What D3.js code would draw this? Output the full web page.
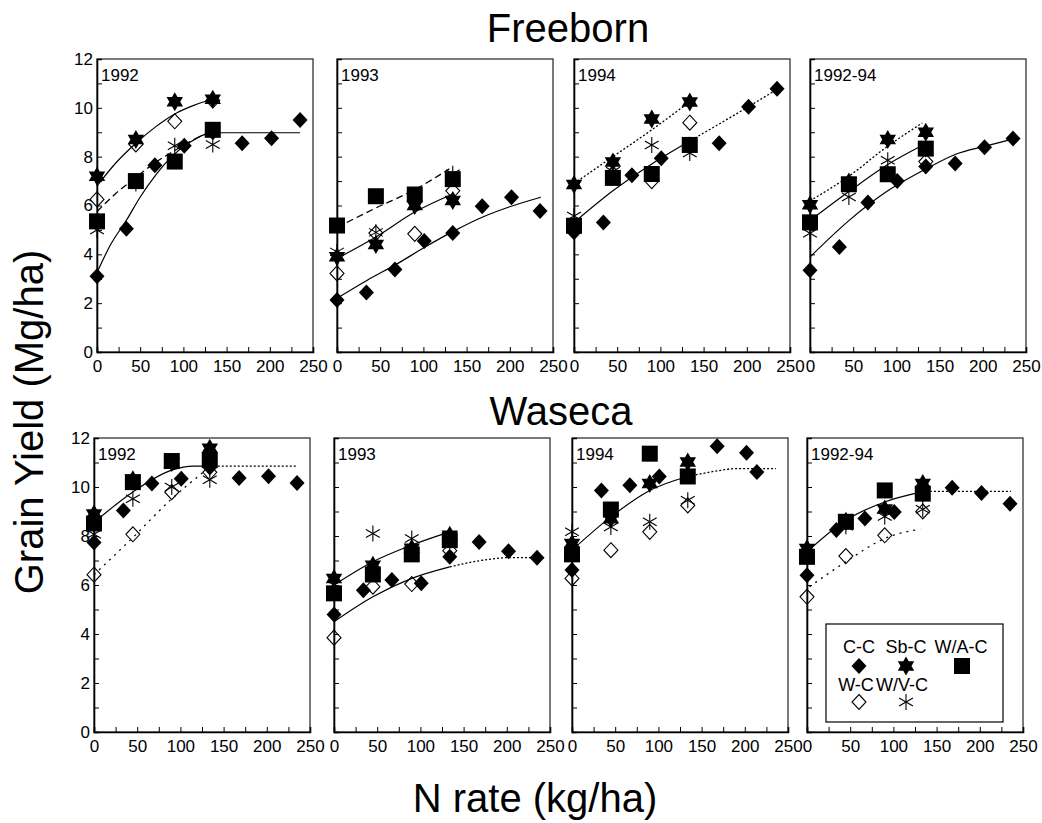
<!DOCTYPE html>
<html>
<head>
<meta charset="utf-8">
<script src="https://cdn.jsdelivr.net/npm/d3@7"></script>
<style>
  html, body { margin: 0; padding: 0; background: #fff; }
  svg { display: block; }
  text { font-family: "Liberation Sans", Arial, sans-serif; fill: #000; }
</style>
</head>
<body>
<svg id="chart" width="1042" height="823"></svg>
<script>
// ---------------- DATA ----------------
const xTicks = [0, 25, 50, 75, 100, 125, 150, 175, 200, 225, 250];
const xTickLabels = [0, 50, 100, 150, 200, 250];
const yTicks = [0, 1, 2, 3, 4, 5, 6, 7, 8, 9, 10, 11, 12];
const yTickLabels = [0, 2, 4, 6, 8, 10, 12];
const sites = ["Freeborn", "Waseca"];
const years = ["1992", "1993", "1994", "1992-94"];
const rotations = ["C-C", "Sb-C", "W/A-C", "W-C", "W/V-C"];

// Freeborn 1992
const fb92_cc = [[0,3.1],[34,5.05],[67,7.65],[101,8.45],[134,9.0],[168,8.55],[202,8.75],[235,9.5]];
const fb92_sb = [[0,7.2],[45,8.7],[90,10.25],[134,10.35]];
const fb92_wc = [[0,6.25],[45,8.5],[90,9.45],[134,10.3]];
const fb92_wa = [[0,5.35],[45,7.0],[90,7.8],[134,9.1]];
const fb92_wv = [[0,5.0],[45,6.9],[90,8.45],[134,8.5]];
const fb92_fitSb = [[0,6.8],[22,7.75],[45,8.55],[67,9.2],[90,9.75],[112,10.1],[134,10.35]];
const fb92_fitCC = [[0,3.25],[15,4.35],[35,5.45],[50,6.35],[69,7.3],[85,7.95],[108,8.6],[134,8.98],[235,8.98]];
const fb92_fitWA = [[0,5.75],[22,6.5],[45,7.15],[67,7.75],[90,8.25],[112,8.7],[134,9.05]];

// Freeborn 1993
const fb93_cc = [[0,2.13],[34,2.44],[67,3.38],[101,4.55],[134,4.87],[168,5.97],[202,6.34],[235,5.77]];
const fb93_sb = [[0,3.9],[45,4.4],[90,6.0],[134,6.2]];
const fb93_wc = [[0,3.22],[45,4.87],[90,4.84],[134,6.6]];
const fb93_wa = [[0,5.18],[45,6.38],[90,6.45],[134,7.08]];
const fb93_wv = [[0,4.1],[45,4.9],[90,6.3],[134,7.3]];
const fb93_fitWA = [[0,5.1],[45,5.9],[90,6.65],[130,7.5]];
const fb93_fitSb = [[0,3.83],[45,4.71],[90,5.73],[134,6.47]];
const fb93_fitCC = [[0,2.2],[35,2.94],[70,3.62],[102,4.3],[135,4.95],[170,5.55],[200,5.95],[236,6.34]];

// Freeborn 1994
const fb94_cc = [[0,4.9],[34,5.3],[67,7.24],[101,7.94],[134,8.5],[168,8.55],[202,10.04],[235,10.78]];
const fb94_sb = [[0,6.86],[45,7.78],[90,9.54],[134,10.24]];
const fb94_wc = [[0,5.1],[45,7.3],[90,7.0],[134,9.39]];
const fb94_wa = [[0,5.17],[45,7.13],[90,7.29],[134,8.48]];
const fb94_wv = [[0,5.57],[45,7.4],[90,8.48],[134,8.15]];
const fb94_fitSb = [[0,6.9],[45,8.0],[90,9.1],[134,10.25]];
const fb94_fitCC = [[0,5.3],[45,6.6],[90,7.7],[136,8.68]];
const fb94_fitCCext = [[136,8.68],[170,9.38],[202,10.05],[236,10.78]];

// Freeborn 1992-94
const fb9294_cc = [[0,3.35],[34,4.3],[67,6.12],[101,7.0],[134,7.6],[168,7.72],[202,8.39],[235,8.74]];
const fb9294_sb = [[0,6.03],[45,6.96],[90,8.7],[134,9.0]];
const fb9294_wc = [[0,5.3],[45,6.9],[90,7.3],[134,7.8]];
const fb9294_wa = [[0,5.31],[45,6.87],[90,7.28],[134,8.33]];
const fb9294_wv = [[0,4.86],[45,6.35],[90,7.85],[134,8.3]];
const fb9294_fitSb = [[0,6.19],[45,7.2],[90,8.43],[130,9.38]];
const fb9294_fitWA = [[0,5.38],[45,6.57],[90,7.68],[132,8.5]];
const fb9294_fitCC = [[0,3.89],[45,5.38],[90,6.6],[137,7.55],[168,8.09],[203,8.43],[237,8.74]];

// Waseca 1992
const wa92_cc = [[0,7.73],[34,9.04],[67,10.14],[101,10.34],[134,10.8],[168,10.37],[202,10.44],[235,10.16]];
const wa92_sb = [[0,8.9],[45,10.3],[90,11.0],[134,11.58]];
const wa92_wc = [[0,6.42],[45,8.07],[90,9.79],[134,10.6]];
const wa92_wa = [[0,8.51],[45,10.2],[90,11.06],[134,11.1]];
const wa92_wv = [[0,8.07],[45,9.52],[90,10.0],[134,10.3]];
const wa92_fit = [[0,8.55],[45,9.8],[90,10.69],[115,10.85],[134,10.85]];
const wa92_fitExt = [[134,10.85],[235,10.85]];
const wa92_fitWC = [[0,6.42],[45,7.94],[90,9.52],[122,10.48],[134,10.83]];

// Waseca 1993
const wa93_cc = [[0,4.8],[34,5.79],[67,6.2],[101,6.07],[134,7.15],[168,7.76],[202,7.38],[235,7.11]];
const wa93_sb = [[0,6.27],[45,6.81],[90,7.5],[134,8.03]];
const wa93_wc = [[0,3.85],[45,5.93],[90,6.04],[134,7.4]];
const wa93_wa = [[0,5.66],[45,6.43],[90,7.25],[134,7.83]];
const wa93_wv = [[0,6.0],[45,8.1],[90,7.9],[134,7.8]];
const wa93_fitUp = [[0,6.0],[45,6.95],[90,7.63],[134,8.17]];
const wa93_fitLow = [[0,4.5],[45,5.52],[90,6.27],[134,6.74]];
const wa93_fitLowExt = [[134,6.74],[172,7.01],[203,7.12],[237,7.11]];

// Waseca 1994
const wa94_cc = [[0,6.61],[34,9.86],[67,10.07],[101,10.43],[134,10.5],[168,11.66],[202,11.4],[214,10.61]];
const wa94_sb = [[0,7.69],[45,8.7],[90,10.14],[134,11.02]];
const wa94_wc = [[0,6.27],[45,7.42],[90,8.17],[134,9.25]];
const wa94_wa = [[0,7.25],[45,9.08],[90,11.36],[134,10.43]];
const wa94_wv = [[0,8.17],[45,8.37],[90,8.58],[134,9.46]];
const wa94_fit = [[0,7.42],[45,8.78],[90,9.86],[134,10.43]];
const wa94_fitExt = [[134,10.43],[172,10.68],[188,10.75],[236,10.75]];

// Waseca 1992-94
const wa9294_cc = [[0,6.4],[34,8.24],[67,8.71],[101,8.98],[134,9.7],[168,9.97],[202,9.76],[235,9.32]];
const wa9294_sb = [[0,7.49],[45,8.6],[90,9.1],[134,10.14]];
const wa9294_wc = [[0,5.52],[45,7.18],[90,8.03],[134,9.0]];
const wa9294_wa = [[0,7.15],[45,8.58],[90,9.86],[134,9.73]];
const wa9294_wv = [[0,7.3],[45,8.4],[90,8.8],[134,9.09]];
const wa9294_fit = [[0,7.35],[45,8.64],[90,9.39],[133,9.8]];
const wa9294_fitExt = [[133,9.82],[236,9.82]];
const wa9294_fitWC = [[3,5.93],[45,6.95],[90,7.9],[131,8.28]];

// ---------------- LAYOUT ----------------
const W = 1042, H = 823;
const rowLefts = [[97, 337, 574, 810], [94, 334, 572, 807]];
const panelW = 216;
const rowTop = [59, 438];
const rowBottom = [352, 732];

const DASH = { solid: null, dashed: "7,4", dotted: "2,2", dashdot: "2,5" };

const panels = [
  { r:0, c:0, series:[fb92_cc, fb92_sb, fb92_wa, fb92_wc, fb92_wv],
    fits:[[fb92_fitSb,"solid"],[fb92_fitCC,"solid"],[fb92_fitWA,"dashed"]] },
  { r:0, c:1, series:[fb93_cc, fb93_sb, fb93_wa, fb93_wc, fb93_wv],
    fits:[[fb93_fitWA,"dashed"],[fb93_fitSb,"solid"],[fb93_fitCC,"solid"]] },
  { r:0, c:2, series:[fb94_cc, fb94_sb, fb94_wa, fb94_wc, fb94_wv],
    fits:[[fb94_fitSb,"dotted"],[fb94_fitCC,"solid"],[fb94_fitCCext,"dotted"]] },
  { r:0, c:3, series:[fb9294_cc, fb9294_sb, fb9294_wa, fb9294_wc, fb9294_wv],
    fits:[[fb9294_fitSb,"dotted"],[fb9294_fitWA,"solid"],[fb9294_fitCC,"solid"]] },
  { r:1, c:0, series:[wa92_cc, wa92_sb, wa92_wa, wa92_wc, wa92_wv],
    fits:[[wa92_fit,"solid"],[wa92_fitExt,"dotted"],[wa92_fitWC,"dashdot"]] },
  { r:1, c:1, series:[wa93_cc, wa93_sb, wa93_wa, wa93_wc, wa93_wv],
    fits:[[wa93_fitUp,"solid"],[wa93_fitLow,"solid"],[wa93_fitLowExt,"dotted"]] },
  { r:1, c:2, series:[wa94_cc, wa94_sb, wa94_wa, wa94_wc, wa94_wv],
    fits:[[wa94_fit,"solid"],[wa94_fitExt,"dotted"]] },
  { r:1, c:3, series:[wa9294_cc, wa9294_sb, wa9294_wa, wa9294_wc, wa9294_wv],
    fits:[[wa9294_fit,"solid"],[wa9294_fitExt,"dotted"],[wa9294_fitWC,"dashdot"]] }
];

const svg = d3.select("#chart");
svg.append("rect").attr("width", W).attr("height", H).attr("fill", "#fff");

// ---------------- SYMBOLS ----------------
function hexagramPath(R) {
  const pt = a => [R * Math.cos(a * Math.PI / 180), R * Math.sin(a * Math.PI / 180)];
  const t1 = [-90, 30, 150].map(pt), t2 = [90, 210, 330].map(pt);
  const p = t => "M" + t.map(q => q[0].toFixed(2) + "," + q[1].toFixed(2)).join("L") + "Z";
  return p(t1) + p(t2);
}
function drawSymbol(g, kind, cx, cy) {
  if (kind === "C-C") {
    g.append("path").attr("d", `M${cx},${cy-8}L${cx+7.5},${cy}L${cx},${cy+8}L${cx-7.5},${cy}Z`)
      .attr("fill", "#000");
  } else if (kind === "W-C") {
    g.append("path").attr("d", `M${cx},${cy-7.5}L${cx+7},${cy}L${cx},${cy+7.5}L${cx-7},${cy}Z`)
      .attr("fill", "none").attr("stroke", "#000").attr("stroke-width", 1.1);
  } else if (kind === "Sb-C") {
    g.append("path").attr("d", hexagramPath(9.5)).attr("transform", `translate(${cx},${cy})`)
      .attr("fill", "#000");
  } else if (kind === "W/A-C") {
    g.append("rect").attr("x", cx - 8).attr("y", cy - 8).attr("width", 16).attr("height", 16)
      .attr("fill", "#000");
  } else if (kind === "W/V-C") {
    const r = 8;
    [90, 30, 150].forEach(a => {
      const dx = r * Math.cos(a * Math.PI / 180), dy = r * Math.sin(a * Math.PI / 180);
      g.append("line").attr("x1", cx - dx).attr("y1", cy - dy).attr("x2", cx + dx).attr("y2", cy + dy)
        .attr("stroke", "#000").attr("stroke-width", 1.1);
    });
  }
}

// draw order: C-C, Sb-C, W/A-C, W-C, W/V-C
const drawOrder = [0, 1, 2, 3, 4];

// ---------------- PANELS ----------------
panels.forEach((p, i) => {
  const left = rowLefts[p.r][p.c];
  const top = rowTop[p.r], bottom = rowBottom[p.r];
  const x = d3.scaleLinear().domain([0, 250]).range([left, left + panelW]);
  const y = d3.scaleLinear().domain([0, 12]).range([bottom, top]);
  const g = svg.append("g");

  // frame
  g.append("rect").attr("x", left).attr("y", top).attr("width", panelW).attr("height", bottom - top)
    .attr("fill", "none").attr("stroke", "#333").attr("stroke-width", 1.3);

  // axes
  const showY = p.c === 0;
  const yAxis = d3.axisLeft(y).tickValues(yTicks).tickSize(-5).tickPadding(4)
    .tickFormat(d => (showY && yTickLabels.includes(d)) ? d : "");
  const gy = g.append("g").attr("transform", `translate(${left},0)`).call(yAxis);
  const xAxis = d3.axisBottom(x).tickValues(xTicks).tickSize(-5).tickPadding(8)
    .tickFormat(d => xTickLabels.includes(d) ? d : "");
  const gx = g.append("g").attr("transform", `translate(0,${bottom})`).call(xAxis);
  [gx, gy].forEach(ax => {
    ax.select(".domain").attr("stroke", "#000").attr("stroke-width", 1.6);
    ax.selectAll(".tick line").attr("stroke", "#000").attr("stroke-width", 1);
    ax.selectAll("text").attr("font-size", 17).attr("font-family", "Liberation Sans, Arial, sans-serif").attr("fill", "#000");
  });

  // year label
  g.append("text").attr("x", left + 4).attr("y", top + 22).attr("font-size", 17)
    .text(years[p.c]);

  // fitted lines
  const line = d3.line().x(d => x(d[0])).y(d => y(d[1])).curve(d3.curveMonotoneX);
  p.fits.forEach(([data, style]) => {
    g.append("path").attr("d", line(data)).attr("fill", "none").attr("stroke", "#000")
      .attr("stroke-width", style === "solid" ? 1.2 : 1.3)
      .attr("stroke-dasharray", DASH[style]);
  });

  // points
  drawOrder.forEach(si => {
    p.series[si].forEach(d => drawSymbol(g, rotations[si], x(d[0]), y(d[1])));
  });
});

// ---------------- TITLES ----------------
svg.append("text").attr("x", 568).attr("y", 42).attr("text-anchor", "middle").attr("font-size", 40).text(sites[0]);
svg.append("text").attr("x", 561).attr("y", 425).attr("text-anchor", "middle").attr("font-size", 40).text(sites[1]);
svg.append("text").attr("x", 535).attr("y", 812).attr("text-anchor", "middle").attr("font-size", 40).text("N rate (kg/ha)");
svg.append("text").attr("transform", "translate(43,422) rotate(-90)").attr("text-anchor", "middle")
  .attr("font-size", 40).text("Grain Yield (Mg/ha)");

// ---------------- LEGEND ----------------
const lg = svg.append("g");
lg.append("rect").attr("x", 826).attr("y", 624).attr("width", 177).attr("height", 98)
  .attr("fill", "#fff").attr("stroke", "#000").attr("stroke-width", 1.2);
const legendCols = { "C-C": [859, 653, 859, 666], "Sb-C": [906, 653, 906, 666], "W/A-C": [961, 653, 962, 666],
                     "W-C": [856, 691, 859, 702], "W/V-C": [902, 691, 906, 702] };
rotations.forEach(k => {
  const [tx, ty, sx, sy] = legendCols[k];
  lg.append("text").attr("x", tx).attr("y", ty).attr("text-anchor", "middle").attr("font-size", 18).text(k);
  drawSymbol(lg, k, sx, sy);
});
</script>
</body>
</html>
